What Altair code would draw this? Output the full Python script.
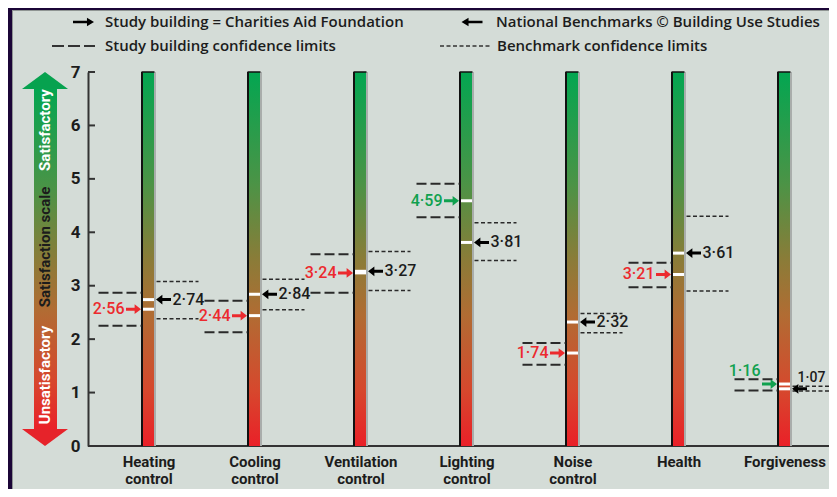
import altair as alt
import pandas as pd

# ---------------- data ----------------
categories = ["Heating control", "Cooling control", "Ventilation control",
              "Lighting control", "Noise control", "Health", "Forgiveness"]
study = [2.56, 2.44, 3.24, 4.59, 1.74, 3.21, 1.16]
study_lo = [2.25, 2.13, 2.87, 4.28, 1.52, 2.97, 1.04]
study_hi = [2.87, 2.72, 3.59, 4.91, 1.93, 3.43, 1.25]
bench = [2.74, 2.84, 3.27, 3.81, 2.32, 3.61, 1.07]
bench_lo = [2.38, 2.55, 2.91, 3.47, 2.12, 2.90, 1.03]
bench_hi = [3.08, 3.12, 3.64, 4.18, 2.48, 4.30, 1.12]
study_better = [False, False, False, True, False, False, True]
y_ticks = [0, 1, 2, 3, 4, 5, 6, 7]

legend_items = ["Study building = Charities Aid Foundation",
                "National Benchmarks \u00a9 Building Use Studies",
                "Study building confidence limits",
                "Benchmark confidence limits"]
scale_words = ["Satisfactory", "Satisfaction scale", "Unsatisfactory"]

# ---------------- styling ----------------
FONT = "Roboto, Liberation Sans, DejaVu Sans, sans-serif"
LFONT = "Open Sans, Roboto, Liberation Sans, sans-serif"
RED = "#ec2a2e"
GREEN = "#10a14f"
INK = "#1c1c1c"
BG = "#d4dcd7"
DARK = "#1b0537"
W, H = 741, 374

def fmt(v):
    return f"{v:.2f}".replace(".", "\u00b7")

df = pd.DataFrame({
    "cat": categories, "study": study, "study_lo": study_lo, "study_hi": study_hi,
    "bench": bench, "bench_lo": bench_lo, "bench_hi": bench_hi,
    "scol": [GREEN if b else RED for b in study_better],
    "slab": [fmt(v) for v in study], "blab": [fmt(v) for v in bench],
})
ticks_df = pd.DataFrame({"v": y_ticks})
one = pd.DataFrame({"k": [0]})

yscale = alt.Scale(domain=[0, 7], nice=False, zero=False)
X = alt.X("cat:N", sort=categories, title=None,
          scale=alt.Scale(type="point", range=[60.5, 696.5], padding=0),
          axis=alt.Axis(labelExpr="split(datum.label, ' ')", zindex=1, domain=False,
                        ticks=False, labelAngle=0, labelFont=FONT, labelFontSize=15,
                        labelFontWeight="bold", labelColor=INK, labelPadding=8,
                        labelLineHeight=17))
X2 = alt.X2("cat:N")

def Y(f):
    return alt.Y(f"{f}:Q", scale=yscale, title=None,
                 axis=alt.Axis(values=y_ticks, format="d", zindex=1, domainColor="#333",
                               domainWidth=2, ticks=False, grid=False, labelFont=FONT,
                               labelFontSize=17, labelFontWeight="bold", labelColor=INK,
                               labelPadding=8))

grad = alt.LinearGradient(
    gradient="linear", x1=0, x2=0, y1=0, y2=1,
    stops=[alt.GradientStop(offset=0, color="#03a651"),
           alt.GradientStop(offset=0.3, color="#4c9346"),
           alt.GradientStop(offset=0.5, color="#8a7c38"),
           alt.GradientStop(offset=0.65, color="#b16c33"),
           alt.GradientStop(offset=0.85, color="#d6482d"),
           alt.GradientStop(offset=1, color="#ea2028")])

RIGHT = "M-1,-0.2 L0.15,-0.2 L0.15,-0.65 L1,0 L0.15,0.65 L0.15,0.2 L-1,0.2 Z"
LEFT = "M1,-0.2 L-0.15,-0.2 L-0.15,-0.65 L-1,0 L-0.15,0.65 L-0.15,0.2 L1,0.2 Z"
LRIGHT = "M-1,-0.13 L0.33,-0.13 L0.33,-0.4 L1,0 L0.33,0.4 L0.33,0.13 L-1,0.13 Z"
LLEFT = "M1,-0.13 L-0.33,-0.13 L-0.33,-0.4 L-1,0 L-0.33,0.4 L-0.33,0.13 L1,0.13 Z"
UP = "M0,-0.37 L1,0.37 L-1,0.37 Z"
DOWN = "M0,0.37 L1,-0.37 L-1,-0.37 Z"

base = alt.Chart(df)
deco = alt.Chart(one)

# dark frame (top and left) with a thin grey edge
frame = [
    deco.mark_rect(fill=DARK).encode(x=alt.value(-80), x2=alt.value(760),
                                      y=alt.value(-64), y2=alt.value(-62)),
    deco.mark_rect(fill=DARK).encode(x=alt.value(-80), x2=alt.value(-76),
                                      y=alt.value(-64), y2=alt.value(430)),
    deco.mark_rule(color="#8f9593", strokeWidth=1).encode(
        x=alt.value(-75.5), y=alt.value(-62), y2=alt.value(430)),
    deco.mark_rule(color="#8f9593", strokeWidth=1).encode(
        x=alt.value(-76), x2=alt.value(760), y=alt.value(-61.5)),
]

# left satisfaction arrow
shaft = deco.mark_rect(color=grad).encode(
    x=alt.value(-54), x2=alt.value(-31), y=alt.value(16), y2=alt.value(358))
head_up = deco.mark_point(shape=UP, size=2116, filled=True, opacity=1,
                          color="#07a24f", strokeWidth=0).encode(
    x=alt.value(-43), y=alt.value(8.5))
head_dn = deco.mark_point(shape=DOWN, size=2116, filled=True, opacity=1,
                          color="#e6232a", strokeWidth=0).encode(
    x=alt.value(-43), y=alt.value(365.5))
scale_txt = []
for word, yy, col in zip(scale_words, [58, 175, 303], ["white", INK, "white"]):
    scale_txt.append(deco.mark_text(angle=270, font=FONT, fontSize=15, fontWeight="bold",
                                    color=col, align="center", baseline="middle").encode(
        x=alt.value(-43), y=alt.value(yy), text=alt.value(word)))

# legend
leg = [
    deco.mark_point(shape=LRIGHT, size=441, filled=True, opacity=1, color="black",
                    strokeWidth=0).encode(x=alt.value(-4.5), y=alt.value(-50)),
    deco.mark_point(shape=LLEFT, size=441, filled=True, opacity=1, color="black",
                    strokeWidth=0).encode(x=alt.value(384), y=alt.value(-50)),
    deco.mark_rule(color="#333", strokeWidth=2, strokeDash=[12, 4]).encode(
        x=alt.value(-36), x2=alt.value(7), y=alt.value(-26)),
    deco.mark_rule(color="#333", strokeWidth=1.5, strokeDash=[4, 2.5]).encode(
        x=alt.value(352), x2=alt.value(402), y=alt.value(-26)),
]
for txt, xx, yy in zip(legend_items, [17, 408, 17, 409], [-50, -50, -26, -26]):
    leg.append(deco.mark_text(font=LFONT, fontSize=15, fontWeight=600, color=INK,
                              align="left", baseline="middle").encode(
        x=alt.value(xx), y=alt.value(yy), text=alt.value(txt)))

# axis ticks pointing inward and baseline
tick_rules = alt.Chart(ticks_df).mark_rule(color="#333", strokeWidth=2).encode(
    y=Y("v"), x=alt.value(0), x2=alt.value(7))
baseline = deco.mark_rule(color="#333", strokeWidth=2).encode(
    x=alt.value(0), x2=alt.value(745), y=alt.value(H))

# gradient bars
bars = base.mark_bar(size=11, color=grad).encode(x=X, y=alt.datum(7), y2=alt.datum(0))
bar_l = base.mark_rule(color="#111", strokeWidth=2, xOffset=-6.5).encode(
    x=X, y=alt.datum(7), y2=alt.datum(0))
bar_r = base.mark_rule(color="#a9adab", strokeWidth=2, xOffset=6.5).encode(
    x=X, y=alt.datum(7), y2=alt.datum(0))
bar_t = base.mark_rule(color="#111", strokeWidth=1.5, xOffset=-7, x2Offset=6).encode(
    x=X, x2=X2, y=alt.datum(7))

# confidence limits
cl = []
for f in ["study_lo", "study_hi"]:
    cl.append(base.mark_rule(color="#2a2a2a", strokeWidth=2, strokeDash=[10, 4],
                             xOffset=-50, x2Offset=-7).encode(x=X, x2=X2, y=Y(f)))
for f in ["bench_lo", "bench_hi"]:
    cl.append(base.mark_rule(color="#2a2a2a", strokeWidth=1.5, strokeDash=[4, 2.5],
                             xOffset=8, x2Offset=50).encode(x=X, x2=X2, y=Y(f)))

# white markers on bars
marks_s = base.mark_tick(color="white", thickness=3, size=11, opacity=1).encode(x=X, y=Y("study"))
marks_b = base.mark_tick(color="white", thickness=3, size=11, opacity=1).encode(x=X, y=Y("bench"))

# arrows
arr_s = base.mark_point(shape=RIGHT, size=225, filled=True, opacity=1, strokeWidth=0,
                        xOffset=-15).encode(x=X, y=Y("study"),
                                            color=alt.Color("scol:N", scale=None))
arr_b = base.mark_point(shape=LEFT, size=225, filled=True, opacity=1, strokeWidth=0,
                        color="black", xOffset=15).encode(x=X, y=Y("bench"))

# value labels
main = alt.datum.cat != "Forgiveness"
forg = alt.datum.cat == "Forgiveness"
lab_s = base.transform_filter(main).mark_text(
    font=FONT, fontSize=16, fontWeight=500, align="right", baseline="middle", dx=-24).encode(
    x=X, y=Y("study"), text="slab:N", color=alt.Color("scol:N", scale=None))
lab_s2 = base.transform_filter(forg).mark_text(
    font=FONT, fontSize=16, fontWeight=500, align="right", baseline="middle", dx=-24, dy=-13).encode(
    x=X, y=Y("study"), text="slab:N", color=alt.Color("scol:N", scale=None))
lab_b = base.transform_filter(main).mark_text(
    font=FONT, fontSize=16, fontWeight=500, align="left", baseline="middle", dx=24, color=INK).encode(
    x=X, y=Y("bench"), text="blab:N")
lab_b2 = base.transform_filter(forg).mark_text(
    font=FONT, fontSize=14, fontWeight=500, align="left", baseline="middle", dx=13, dy=-11, color=INK).encode(
    x=X, y=Y("bench"), text="blab:N")

chart = alt.layer(
    *frame, shaft, head_up, head_dn, *scale_txt, *leg,
    tick_rules, baseline, bars, bar_l, bar_r, bar_t, *cl, marks_s, marks_b,
    arr_s, arr_b, lab_s, lab_s2, lab_b, lab_b2,
).properties(
    width=W, height=H,
    padding={"left": 80, "top": 64, "right": 0, "bottom": 43},
    autosize=alt.AutoSizeParams(type="none"),
    background=BG,
).configure_view(stroke=None)

chart.save("out.html", embed_options={"renderer": "svg", "actions": False})
